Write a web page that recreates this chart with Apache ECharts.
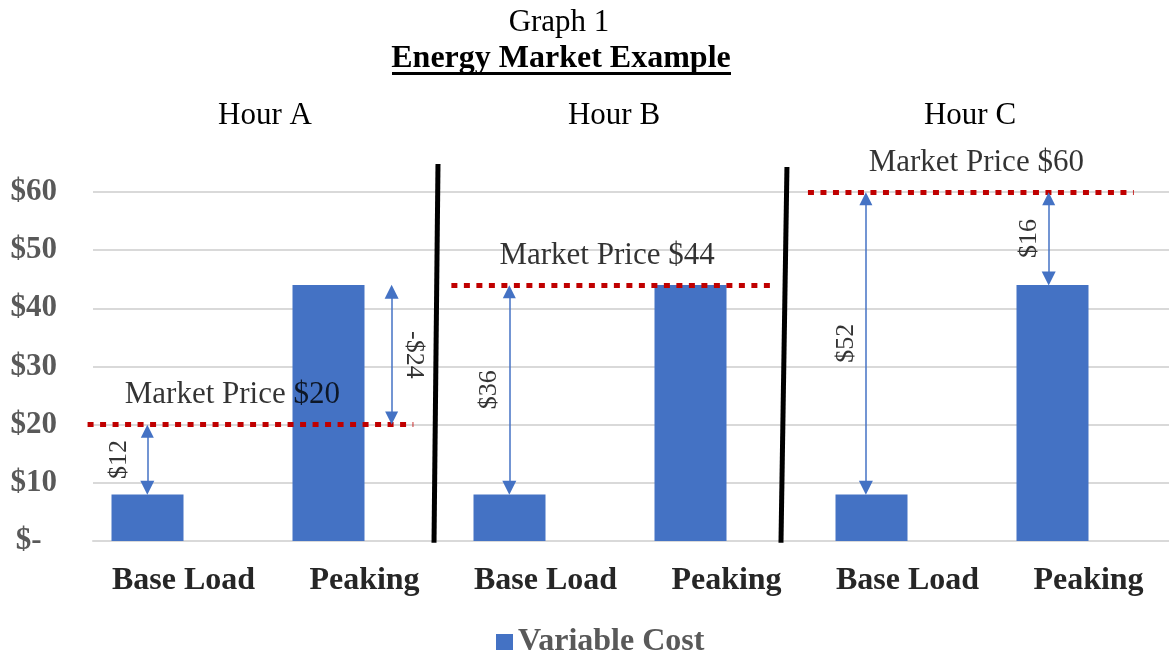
<!DOCTYPE html>
<html>
<head>
<meta charset="utf-8">
<script src="https://cdn.jsdelivr.net/npm/echarts@6/dist/echarts.min.js"></script>
<style>
  html, body { margin: 0; background: #fff; }
  #chart { width: 1169px; height: 653px; }
</style>
</head>
<body>
<div id="chart"></div>
<script>
const categories = ['Base Load', 'Peaking', 'Base Load', 'Peaking', 'Base Load', 'Peaking'];
const variableCost = [8, 44, 8, 44, 8, 44];
const hours = ['Hour A', 'Hour B', 'Hour C'];
const marketPrice = [20, 44, 60];
const yTickLabels = ['$-', '$10', '$20', '$30', '$40', '$50', '$60'];
// bars that get an arrow to their hour's market price, and the arrow text
const spreadBars = [0, 1, 2, 4, 5];
const spreadLabels = ['$12', '-$24', '$36', '$52', '$16'];

const SERIF = '"Liberation Serif", "Times New Roman", serif';
const BLUE = '#4472C4';

// layout helpers (x in category units on a hidden value axis 0..6)
const arrowX = [0.3, 0.65, 0.3, 0.27, 0.28];
const labelShift = [-0.155, 0.12, -0.11, -0.11, -0.11];
const labelRotate = [90, -90, 90, 90, 90];
const priceSpan = [[-0.03, 1.77], [1.98, 3.77], [3.95, 5.75]];
const priceLabelX = [0.77, 2.84, 4.88];
const separators = [[1.906, 64.8, 1.884, -0.3], [3.834, 64.3, 3.801, -0.3]];
const tipInset = 1.15;

const chart = echarts.init(document.getElementById('chart'));

const arrowLines = spreadBars.map((b, i) => {
  const from = variableCost[b];
  const to = marketPrice[Math.floor(b / 2)];
  const dir = to > from ? 1 : -1;
  const x = b + arrowX[i];
  return { coords: [[x, from + dir * tipInset], [x, to - dir * tipInset]] };
});

const arrowText = spreadBars.map((b, i) => {
  const from = variableCost[b];
  const to = marketPrice[Math.floor(b / 2)];
  return {
    value: [b + arrowX[i] + labelShift[i], (from + to) / 2],
    label: { formatter: spreadLabels[i], rotate: labelRotate[i] }
  };
});

const priceLines = marketPrice.map((p, h) => ({
  coords: [[priceSpan[h][0], p], [priceSpan[h][1], p]]
}));

const priceText = marketPrice.map((p, h) => ({
  value: [priceLabelX[h], p],
  label: { formatter: 'Market Price $' + p }
}));

const sepLines = separators.map(s => ({ coords: [[s[0], s[1]], [s[2], s[3]]] }));

const hourX = [265, 614, 970];

const option = {
  animation: false,
  backgroundColor: '#fff',
  grid: { left: 93, top: 192, width: 1086, height: 349, outerBoundsMode: 'none' },
  legend: {
    data: ['Variable Cost'],
    left: 491,
    top: 621,
    icon: 'rect',
    itemWidth: 17,
    itemHeight: 16,
    textStyle: { fontFamily: SERIF, fontWeight: 'bold', fontSize: 32, color: '#595959' }
  },
  graphic: [
    {
      type: 'text', x: 559, y: 23,
      style: { text: 'Graph 1', font: '31px ' + SERIF, fill: '#000', textAlign: 'center', textVerticalAlign: 'middle' }
    },
    {
      type: 'text', x: 561, y: 59,
      style: { text: 'Energy Market Example', font: 'bold 32px ' + SERIF, fill: '#000', textAlign: 'center', textVerticalAlign: 'middle' }
    },
    {
      type: 'rect', shape: { x: 392, y: 72, width: 339, height: 3 },
      style: { fill: '#000' }
    }
  ].concat(hours.map((h, i) => ({
    type: 'text', x: hourX[i], y: 116,
    style: { text: h, font: '31px ' + SERIF, fill: '#000', textAlign: 'center', textVerticalAlign: 'middle' }
  }))),
  xAxis: [
    {
      type: 'category',
      data: categories,
      axisTick: { show: false },
      axisLine: { lineStyle: { color: '#d9d9d9', width: 2 } },
      axisLabel: {
        interval: 0,
        fontFamily: SERIF, fontWeight: 'bold', fontSize: 32, color: '#262626', margin: 24
      }
    },
    { type: 'value', min: 0, max: 6, show: false }
  ],
  yAxis: {
    type: 'value',
    min: 0,
    max: 60,
    interval: 10,
    axisLine: { show: false },
    axisTick: { show: false },
    splitLine: { lineStyle: { color: '#d9d9d9', width: 2 } },
    axisLabel: {
      fontFamily: SERIF, fontWeight: 'bold', fontSize: 31, color: '#595959', margin: 36,
      padding: [5, 0, 0, 0],
      formatter: v => (v === 0 ? yTickLabels[0] + '\u2002' : yTickLabels[v / 10])
    }
  },
  series: [
    {
      name: 'Variable Cost',
      type: 'bar',
      data: variableCost,
      barWidth: 72,
      barGap: '0%',
      itemStyle: { color: BLUE }
    },
    {
      name: 'pad',
      type: 'bar',
      data: categories.map(() => null),
      barWidth: 72,
      barGap: '0%'
    },
    {
      type: 'lines',
      xAxisIndex: 1,
      coordinateSystem: 'cartesian2d',
      clip: false,
      silent: true,
      z: 5,
      lineStyle: { color: '#000', width: 5, opacity: 1 },
      data: sepLines
    },
    {
      type: 'lines',
      xAxisIndex: 1,
      coordinateSystem: 'cartesian2d',
      clip: false,
      silent: true,
      z: 5,
      lineStyle: { color: '#C00000', width: 5, type: [6, 6.5], cap: 'butt', opacity: 1 },
      data: priceLines
    },
    {
      type: 'lines',
      xAxisIndex: 1,
      coordinateSystem: 'cartesian2d',
      clip: false,
      silent: true,
      z: 6,
      symbol: ['triangle', 'triangle'],
      symbolSize: [14, 13],
      lineStyle: { color: BLUE, width: 1.5, opacity: 1 },
      data: arrowLines
    },
    {
      type: 'scatter',
      xAxisIndex: 1,
      clip: false,
      silent: true,
      z: 7,
      symbolSize: 0,
      label: {
        show: true, position: 'top', distance: 14,
        fontFamily: SERIF, fontSize: 31, color: '#000'
      },
      data: priceText
    },
    {
      type: 'scatter',
      xAxisIndex: 1,
      clip: false,
      silent: true,
      z: 7,
      symbolSize: 0,
      label: {
        show: true, position: 'inside',
        fontFamily: SERIF, fontSize: 26, color: '#000'
      },
      data: arrowText
    }
  ]
};

chart.setOption(option);
</script>
</body>
</html>
